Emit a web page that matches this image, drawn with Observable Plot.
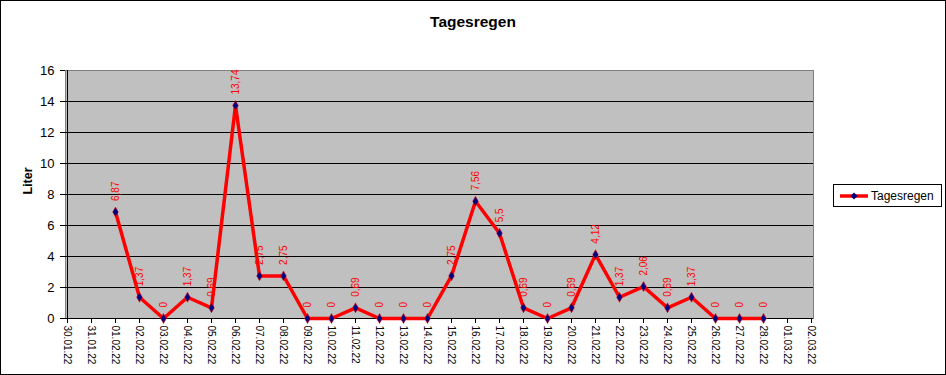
<!DOCTYPE html>
<html>
<head>
<meta charset="utf-8">
<script src="https://cdn.jsdelivr.net/npm/d3@7"></script>
<script src="https://cdn.jsdelivr.net/npm/@observablehq/plot@0.6"></script>
<style>
  html, body { margin: 0; padding: 0; background: #fff; }
  #wrap { position: relative; width: 946px; height: 375px; overflow: hidden; font-family: "Liberation Sans", Arial, sans-serif; }
  #wrap svg.plot { position: absolute; left: 0; top: 0; }
  #border { position: absolute; left: 0; top: 0; width: 946px; height: 375px; box-sizing: border-box; border: 1px solid #000; pointer-events: none; }
  #title { position: absolute; left: 0; width: 946px; top: 13px; text-align: center; font-weight: bold; font-size: 15.5px; color: #000; }
  #legend { position: absolute; left: 833px; top: 184px; width: 109px; height: 23px; box-sizing: border-box; border: 1px solid #000; background: #fff; display: flex; align-items: center; font-size: 12px; }
  #legend svg { margin-left: 6px; margin-right: 3px; }
</style>
</head>
<body>
<div id="wrap">
  <div id="title">Tagesregen</div>
</div>
<script>
const dates = ["30.01.22","31.01.22","01.02.22","02.02.22","03.02.22","04.02.22","05.02.22","06.02.22","07.02.22","08.02.22","09.02.22","10.02.22","11.02.22","12.02.22","13.02.22","14.02.22","15.02.22","16.02.22","17.02.22","18.02.22","19.02.22","20.02.22","21.02.22","22.02.22","23.02.22","24.02.22","25.02.22","26.02.22","27.02.22","28.02.22","01.03.22","02.03.22"];
const values = [null,null,6.87,1.37,0,1.37,0.69,13.74,2.75,2.75,0,0,0.69,0,0,0,2.75,7.56,5.5,0.69,0,0.69,4.12,1.37,2.06,0.69,1.37,0,0,0,null,null];
const yTicks = [0,2,4,6,8,10,12,14,16];
const seriesName = "Tagesregen";
const axisTitle = "Liter";

const rows = dates.map((d, i) => ({date: d, value: values[i]}));
const pts = rows.filter(r => r.value != null);
const fmt = v => String(v).replace(".", ",");

const chart = Plot.plot({
  width: 946,
  height: 375,
  marginLeft: 65,
  marginRight: 133,
  marginTop: 70,
  marginBottom: 57,
  style: { fontFamily: "'Liberation Sans', Arial, sans-serif", background: "transparent", color: "#000", overflow: "visible" },
  x: { type: "point", domain: dates, padding: 0 },
  y: { domain: [0, 16] },
  marks: [
    Plot.frame({ fill: "#c0c0c0", stroke: "#808080" }),
    Plot.gridY(yTicks.filter(t => t > 0 && t < 16), { stroke: "#000", strokeOpacity: 1, strokeWidth: 1 }),
    Plot.ruleY([0], { stroke: "#000" }),
    Plot.ruleX([dates[0]], { stroke: "#000" }),
    Plot.axisY({ ticks: yTicks, tickSize: 5, tickPadding: 6, fontSize: 13, label: null }),
    Plot.axisX({ tickSize: 5, tickPadding: 2, tickRotate: 90, fontSize: 10, label: null }),
    Plot.text([axisTitle], { frameAnchor: "left", dx: -38, rotate: -90, text: d => d, fontWeight: "bold", fontSize: 12.5, fill: "#000" }),
    Plot.line(pts, { x: "date", y: "value", stroke: "#ff0000", strokeWidth: 3.5 }),
    Plot.dot(pts, { x: "date", y: "value", symbol: "diamond", r: 3, fill: "#000080", stroke: "#ff0000", strokeWidth: 0.5 }),
    Plot.text(pts, { x: "date", y: "value", text: d => fmt(d.value), rotate: -90, textAnchor: "start", dy: -11, fill: "#ff0000", fontSize: 10 })
  ]
});
chart.classList.add("plot");
const wrap = document.getElementById("wrap");
wrap.appendChild(chart);

const legend = document.createElement("div");
legend.id = "legend";
legend.innerHTML = `<svg width="28" height="10"><line x1="0" y1="5" x2="28" y2="5" stroke="#ff0000" stroke-width="3.5"></line><path d="M14,1.5L17.5,5L14,8.5L10.5,5Z" fill="#000080"></path></svg><span>${seriesName}</span>`;
wrap.appendChild(legend);

const border = document.createElement("div");
border.id = "border";
wrap.appendChild(border);
</script>
</body>
</html>
